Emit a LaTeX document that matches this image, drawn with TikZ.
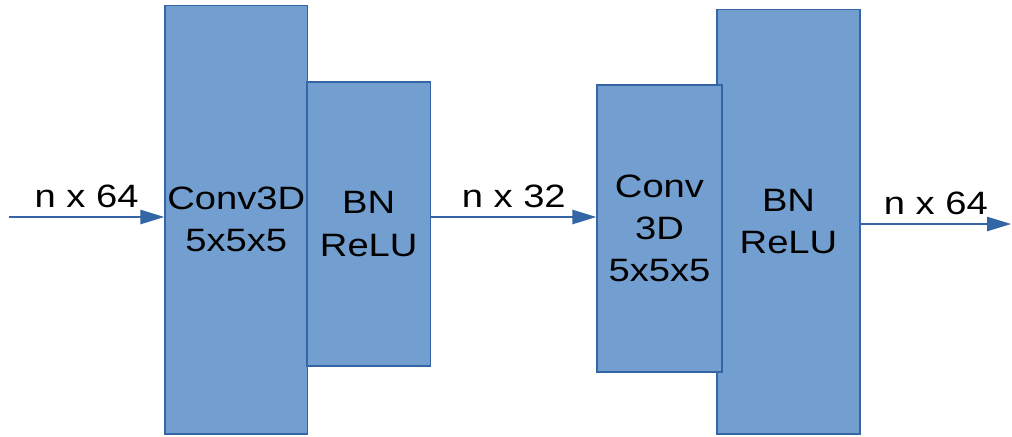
\documentclass[tikz,border=0pt]{standalone}
\usepackage{fontspec}
\setmainfont{Liberation Sans}[FakeStretch=1.18]
\usetikzlibrary{arrows.meta,positioning}
\definecolor{layerFill}{HTML}{729FCF}
\definecolor{layerLine}{HTML}{3465A4}

\begin{document}
\begin{tikzpicture}[
  x=0.025cm, y=-0.025cm,
  every node/.style={font=\fontsize{23}{30}\selectfont},
  layer/.style={draw=layerLine,fill=layerFill,line width=1pt,align=center,inner sep=0pt},
  flow/.style={-{Triangle[length=0.6cm,width=0.36cm]},draw=layerLine,line width=1pt},
  size/.style={midway,above=0.22cm,inner sep=0pt}
]
  \useasboundingbox (0,0) rectangle (1012,436);

  % First block: convolution, then batch norm.
  \node[layer,minimum width=142.5*0.025cm,minimum height=428.5*0.025cm] (conv1) at (236.25,219.75) {Conv3D\\5x5x5};
  \node[layer,minimum width=123.5*0.025cm,minimum height=284*0.025cm] (bn1) at (368.75,224) {BN\\ReLU};

  % Second block; the conv box sits on top of the tall one.
  \node[layer,minimum width=143*0.025cm,minimum height=424.5*0.025cm] (bn2) at (788.5,221.75) {BN\\ReLU};
  \node[layer,minimum width=125*0.025cm,minimum height=287*0.025cm] (conv2) at (659.5,228.5) {Conv\\3D\\5x5x5};

  % Feature sizes along the flow.
  \coordinate (in) at (9,217);
  \coordinate (out) at (1011,224);
  \draw[flow] (in) -- (in -| conv1.west) node[size] (lin) {n x 64};
  \draw[flow] (bn1.east |- in) -- (in -| conv2.west) node[size] (lmid) {n x 32};
  \draw[flow] (bn2.east |- out) -- (out) node[size] (lout) {n x 64};
\end{tikzpicture}
\end{document}
